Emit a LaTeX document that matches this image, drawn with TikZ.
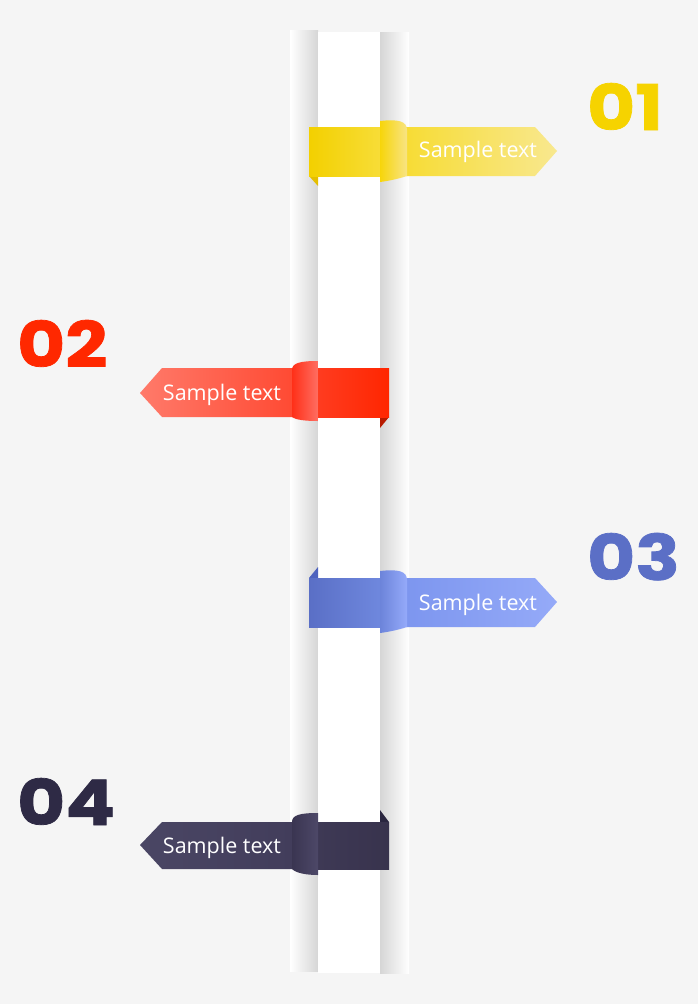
\documentclass[tikz,border=0pt]{standalone}
\usepackage{fontspec}
\setmainfont{Open Sans}
\newfontfamily\numfont{Poppins}[FakeStretch=1.17, FakeBold=1.2]

\definecolor{bg}{HTML}{F5F5F5}
\definecolor{colshade}{HTML}{D6D6D6}
% yellow
\definecolor{yelNum}{HTML}{F6D300}
\definecolor{yelRearL}{HTML}{F3D000}
\definecolor{yelRearR}{HTML}{F7DD38}
\definecolor{yelTail}{HTML}{E4BE00}
\definecolor{yelCurlL}{HTML}{F7D50A}
\definecolor{yelCurlR}{HTML}{F8E484}
\definecolor{yelFrontL}{HTML}{F7DC35}
\definecolor{yelFrontR}{HTML}{F8E88F}
% red
\definecolor{redNum}{HTML}{FF2800}
\definecolor{redRearL}{HTML}{FF3C20}
\definecolor{redRearR}{HTML}{FF2600}
\definecolor{redTail}{HTML}{B81A00}
\definecolor{redCurlL}{HTML}{FF3018}
\definecolor{redCurlR}{HTML}{FF6E62}
\definecolor{redFrontL}{HTML}{FF7A6A}
\definecolor{redFrontR}{HTML}{FF4A33}
% blue
\definecolor{bluNum}{HTML}{5B6FC6}
\definecolor{bluRearL}{HTML}{5A6FC6}
\definecolor{bluRearR}{HTML}{6F88DE}
\definecolor{bluTail}{HTML}{4E63BE}
\definecolor{bluCurlL}{HTML}{6C84DA}
\definecolor{bluCurlR}{HTML}{95AAFA}
\definecolor{bluFrontL}{HTML}{7D96EF}
\definecolor{bluFrontR}{HTML}{95AAF8}
% dark
\definecolor{drkNum}{HTML}{2E2A45}
\definecolor{drkRearL}{HTML}{3E3955}
\definecolor{drkRearR}{HTML}{38334D}
\definecolor{drkTail}{HTML}{2A2640}
\definecolor{drkCurlL}{HTML}{3A3551}
\definecolor{drkCurlR}{HTML}{4D4868}
\definecolor{drkFrontL}{HTML}{4A4664}
\definecolor{drkFrontR}{HTML}{423D5B}

\begin{document}
\begin{tikzpicture}[x=1pt, y=-1pt,
    label text/.style={text=white, anchor=base, inner sep=0pt, font=\fontsize{21.5}{21.5}\selectfont},
    num text/.style={anchor=base west, inner sep=0pt, font=\numfont\bfseries\fontsize{63}{63}\selectfont}]
  \useasboundingbox (0,0) rectangle (698,1004);
  \fill[bg] (0,0) rectangle (698,1004);
  % column
  \shade[left color=white, right color=colshade] (290,30) rectangle (318,971);
  \fill[white] (318,32) rectangle (380,973);
  \shade[left color=colshade, right color=white] (380,32) rectangle (409,973);

  % ribbon 01
  \fill[yelTail] (309,176) -- (318,176) -- (318,186) -- cycle;
  \shade[left color=yelRearL, right color=yelRearR] (309,127) rectangle (381,176);
  \shade[left color=yelFrontL, right color=yelFrontR] (406,127) -- (535,127) -- (557,151) -- (535,176) -- (406,176) -- cycle;
  \shade[left color=yelCurlL, right color=yelCurlR] (380,182) -- (380,121) .. controls (398,119) and (407,121) .. (407,130) -- (407,176) .. controls (398,179) and (388,181) .. (380,182) -- cycle;
  \node[label text] (txt1) at (478,157) {Sample text};
  \node[num text, text=yelNum] (num1) at (587,130) {01};

  % ribbon 02
  \fill[redTail] (380,417) -- (389,417) -- (380,428) -- cycle;
  \shade[left color=redRearL, right color=redRearR] (317,368) rectangle (389,417);
  \shade[left color=redFrontL, right color=redFrontR] (293,368) -- (162,368) -- (140,393) -- (162,417) -- (293,417) -- cycle;
  \shade[left color=redCurlL, right color=redCurlR] (318,361) .. controls (300,361) and (292,363) .. (292,370) -- (292,417) .. controls (296,420) and (306,421) .. (318,421) -- cycle;
  \node[label text] (txt2) at (222,400) {Sample text};
  \node[num text, text=redNum] (num2) at (17,367) {02};

  % ribbon 03
  \fill[bluTail] (309,578) -- (318,567) -- (318,578) -- cycle;
  \shade[left color=bluRearL, right color=bluRearR] (309,578) rectangle (381,627);
  \shade[left color=bluFrontL, right color=bluFrontR] (406,578) -- (535,578) -- (557,602) -- (535,627) -- (406,627) -- cycle;
  \shade[left color=bluCurlL, right color=bluCurlR] (380,633) -- (380,571) .. controls (398,569) and (407,571) .. (407,580) -- (407,627) .. controls (398,630) and (388,632) .. (380,633) -- cycle;
  \node[label text] (txt3) at (478,610) {Sample text};
  \node[num text, text=bluNum] (num3) at (587,580) {03};

  % ribbon 04
  \fill[drkTail] (380,810) -- (389,822) -- (380,822) -- cycle;
  \shade[left color=drkRearL, right color=drkRearR] (317,822) rectangle (389,869);
  \shade[left color=drkFrontL, right color=drkFrontR] (293,822) -- (162,822) -- (140,845) -- (162,869) -- (293,869) -- cycle;
  \shade[left color=drkCurlL, right color=drkCurlR] (318,813) .. controls (300,813) and (292,815) .. (292,822) -- (292,869) .. controls (296,873) and (306,875) .. (318,875) -- cycle;
  \node[label text] (txt4) at (222,853) {Sample text};
  \node[num text, text=drkNum] (num4) at (17,825) {04};
\end{tikzpicture}
\end{document}
